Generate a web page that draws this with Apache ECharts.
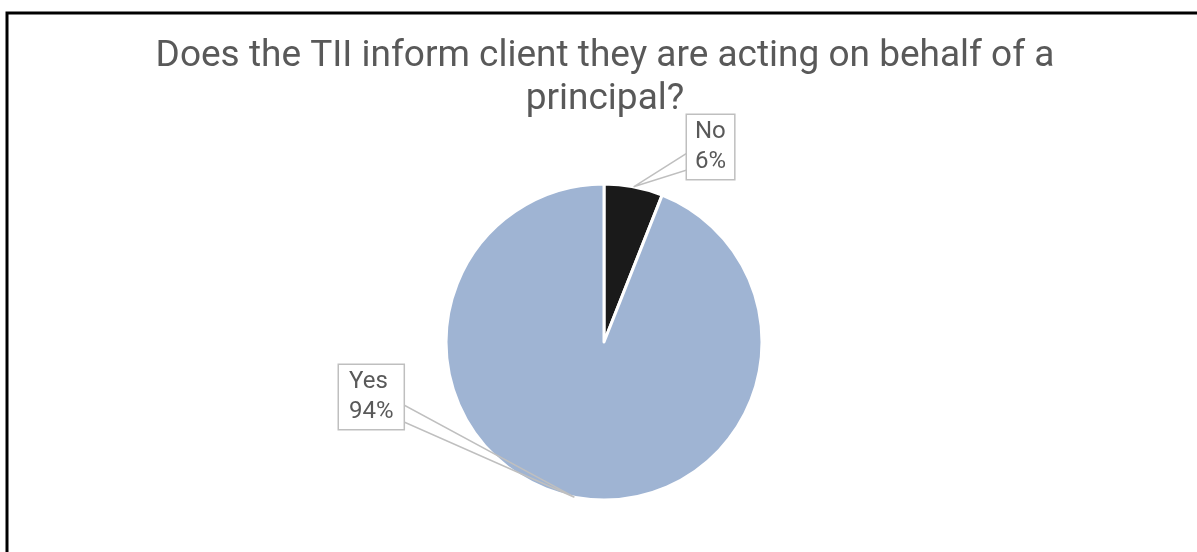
<!DOCTYPE html>
<html>
<head>
<meta charset="utf-8">
<script src="https://cdn.jsdelivr.net/npm/echarts@6/dist/echarts.min.js"></script>
<style>
  html, body { margin: 0; padding: 0; background: #ffffff; }
  #chart { width: 1197px; height: 552px; }
</style>
</head>
<body>
<div id="chart"></div>
<script>
// Survey answers and their shares (percent)
const categories = ['No', 'Yes'];
const shares = [6, 94];
const sliceColors = ['#1a1a1a', '#9fb4d3'];
const titleText = 'Does the TII inform client they are acting on behalf of a\nprincipal?';

// Callout boxes: top-left corner, inner padding, and the two side points the pointer wedge meets
const calloutBoxes = [
  { x: 687, y: 115, padding: [2, 8, 2, 8], attach: [[0, 38], [0, 55]] },
  { x: 339, y: 365, padding: [2, 10, 2, 10], attach: [[65, 40], [65, 57]] }
];

const chart = echarts.init(document.getElementById('chart'), null, { renderer: 'canvas' });

const textColor = '#595959';
const font = 'Roboto, "Noto Sans", sans-serif';
const pieCenter = [604, 342];
const pieRadius = [0, 158];

const pieData = (withCallouts) => categories.map((name, i) => {
  const item = { name, value: shares[i] };
  if (withCallouts) {
    item.itemStyle = { color: 'rgba(0,0,0,0)' };
    item.label = { padding: calloutBoxes[i].padding };
  } else {
    item.itemStyle = { color: sliceColors[i] };
  }
  return item;
});

chart.setOption({
  animation: false,
  backgroundColor: '#ffffff',
  title: {
    text: titleText,
    left: 600,
    textAlign: 'center',
    top: 30,
    textStyle: {
      color: textColor,
      fontFamily: font,
      fontWeight: 'normal',
      fontSize: 37,
      lineHeight: 43
    }
  },
  graphic: [{
    type: 'rect',
    silent: true,
    shape: { x: 7, y: 13, width: 1300, height: 700 },
    style: { fill: 'none', stroke: '#000000', lineWidth: 3 }
  }],
  series: [
    // the slices
    {
      type: 'pie',
      z: 2,
      center: pieCenter,
      radius: pieRadius,
      startAngle: 90,
      clockwise: true,
      data: pieData(false),
      itemStyle: { borderColor: '#ffffff', borderWidth: 3 },
      label: { show: false },
      labelLine: { show: false },
      emphasis: { disabled: true }
    },
    // same shares again, clear fill, carrying the callouts above the slices
    {
      type: 'pie',
      z: 5,
      silent: true,
      center: pieCenter,
      radius: pieRadius,
      startAngle: 90,
      clockwise: true,
      data: pieData(true),
      itemStyle: { borderWidth: 0 },
      label: {
        show: true,
        position: 'outside',
        formatter: '{b}\n{d}%',
        color: textColor,
        fontFamily: font,
        fontSize: 24,
        lineHeight: 30,
        align: 'center',
        backgroundColor: '#ffffff',
        borderColor: '#bfbfbf',
        borderWidth: 1.5,
        padding: [2, 8, 2, 8]
      },
      labelLine: {
        show: true,
        length: 10,
        length2: 10,
        lineStyle: { color: '#bfbfbf', width: 1.5 }
      },
      labelLayout: function (params) {
        const box = calloutBoxes[params.dataIndex];
        const out = { x: box.x, y: box.y, align: 'left', verticalAlign: 'top' };
        const pts = params.labelLinePoints;
        if (pts && pts.length) {
          const tip = pts[0];
          const a = [box.x + box.attach[0][0], box.y + box.attach[0][1]];
          const b = [box.x + box.attach[1][0], box.y + box.attach[1][1]];
          // wedge: slice edge -> box side -> box side -> slice edge
          out.labelLinePoints = [tip, a, b, tip];
        }
        return out;
      },
      emphasis: { disabled: true }
    }
  ]
});
</script>
</body>
</html>
